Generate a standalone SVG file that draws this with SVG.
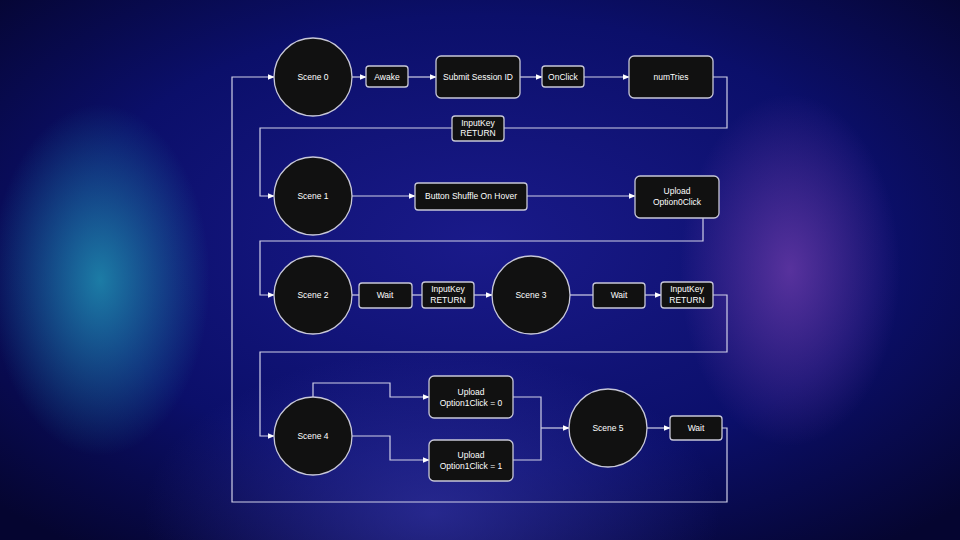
<svg xmlns="http://www.w3.org/2000/svg" width="960" height="540" viewBox="0 0 960 540">
<defs>
<radialGradient id="bg" cx="0.5" cy="0.45" r="0.7">
<stop offset="0" stop-color="#1a1a8a"/><stop offset="0.6" stop-color="#0b0f6a"/><stop offset="1" stop-color="#050530"/>
</radialGradient>
<radialGradient id="cy" gradientUnits="userSpaceOnUse" cx="100" cy="280" r="110" gradientTransform="translate(100 280) scale(1 1.6) translate(-100 -280)"><stop offset="0" stop-color="#1f8fb0" stop-opacity="0.85"/><stop offset="1" stop-color="#1f8fb0" stop-opacity="0"/></radialGradient>
<radialGradient id="pu" gradientUnits="userSpaceOnUse" cx="790" cy="270" r="110" gradientTransform="translate(790 270) scale(1 1.6) translate(-790 -270)"><stop offset="0" stop-color="#6a3aa8" stop-opacity="0.8"/><stop offset="1" stop-color="#6a3aa8" stop-opacity="0"/></radialGradient>
<radialGradient id="lb" cx="0.45" cy="0.95" r="0.3"><stop offset="0" stop-color="#3a3ab0" stop-opacity="0.6"/><stop offset="1" stop-color="#3a3ab0" stop-opacity="0"/></radialGradient>
<marker id="a" viewBox="0 0 10 10" refX="9" refY="5" markerWidth="6" markerHeight="6" orient="auto"><path d="M0,1 L10,5 L0,9 z" fill="#fff"/></marker>
</defs>
<style>
.n{fill:#111;stroke:#c8c8d8;stroke-width:1.3}
.t{fill:#fff;font-family:"Liberation Sans",Arial,sans-serif;font-size:8.5px;text-anchor:middle}
.c{fill:none;stroke:#d0d0e8;stroke-width:1.2}
.ar{marker-end:url(#a)}
</style>
<rect width="960" height="540" fill="url(#bg)"/>
<rect width="960" height="540" fill="url(#cy)"/>
<rect width="960" height="540" fill="url(#pu)"/>
<rect width="960" height="540" fill="url(#lb)"/>
<g id="connectors">
<path class="c ar" d="M352,77 H366"/>
<path class="c ar" d="M408,77 H436"/>
<path class="c ar" d="M520,77 H542"/>
<path class="c ar" d="M584,77 H629"/>
<path class="c ar" d="M713,77 H727 V128 H260 V196 H274"/>
<path class="c ar" d="M352,196 H415"/>
<path class="c ar" d="M527,196 H635"/>
<path class="c ar" d="M703,218 V241 H260 V295 H274"/>
<path class="c" d="M352,295 H359"/>
<path class="c" d="M412,295 H422"/>
<path class="c ar" d="M474,295 H492"/>
<path class="c" d="M570,295 H593"/>
<path class="c ar" d="M645,295 H661"/>
<path class="c ar" d="M713,295 H727 V352 H260 V436 H274"/>
<path class="c ar" d="M313,397 V383 H390 V397 H429"/>
<path class="c ar" d="M352,436 H390 V460 H429"/>
<path class="c" d="M513,397 H541 V460 H513"/>
<path class="c ar" d="M541,428 H569"/>
<path class="c ar" d="M647,428 H670"/>
<path class="c ar" d="M722,428 H727 V502 H232 V77 H274"/>
</g>
<g id="scene0"><circle class="n" cx="313" cy="77" r="39"/><text class="t" x="313" y="80">Scene 0</text></g>
<g id="awake"><rect class="n" x="366" y="66" width="42" height="21" rx="3"/><text class="t" x="387" y="80">Awake</text></g>
<g id="submit"><rect class="n" x="436" y="56" width="84" height="42" rx="5"/><text class="t" x="478" y="80">Submit Session ID</text></g>
<g id="onclick"><rect class="n" x="542" y="66" width="42" height="21" rx="3"/><text class="t" x="563" y="80">OnClick</text></g>
<g id="numtries"><rect class="n" x="629" y="56" width="84" height="42" rx="5"/><text class="t" x="671" y="80">numTries</text></g>
<g id="inputkey0"><rect class="n" x="452" y="116" width="52" height="25" rx="3"/><text class="t" x="478" y="126">InputKey</text><text class="t" x="478" y="136">RETURN</text></g>
<g id="scene1"><circle class="n" cx="313" cy="196" r="39"/><text class="t" x="313" y="199">Scene 1</text></g>
<g id="shuffle"><rect class="n" x="415" y="183" width="112" height="27" rx="3"/><text class="t" x="471" y="199">Button Shuffle On Hover</text></g>
<g id="upload0c"><rect class="n" x="635" y="176" width="84" height="42" rx="5"/><text class="t" x="677" y="194">Upload</text><text class="t" x="677" y="205">Option0Click</text></g>
<g id="scene2"><circle class="n" cx="313" cy="295" r="39"/><text class="t" x="313" y="298">Scene 2</text></g>
<g id="wait1"><rect class="n" x="359" y="283" width="53" height="25" rx="3"/><text class="t" x="385" y="298">Wait</text></g>
<g id="inputkey1"><rect class="n" x="422" y="282" width="52" height="26" rx="3"/><text class="t" x="448" y="292">InputKey</text><text class="t" x="448" y="303">RETURN</text></g>
<g id="scene3"><circle class="n" cx="531" cy="295" r="39"/><text class="t" x="531" y="298">Scene 3</text></g>
<g id="wait2"><rect class="n" x="593" y="283" width="52" height="25" rx="3"/><text class="t" x="619" y="298">Wait</text></g>
<g id="inputkey2"><rect class="n" x="661" y="282" width="52" height="26" rx="3"/><text class="t" x="687" y="292">InputKey</text><text class="t" x="687" y="303">RETURN</text></g>
<g id="scene4"><circle class="n" cx="313" cy="436" r="39"/><text class="t" x="313" y="439">Scene 4</text></g>
<g id="up10"><rect class="n" x="429" y="376" width="84" height="42" rx="5"/><text class="t" x="471" y="395">Upload</text><text class="t" x="471" y="406">Option1Click = 0</text></g>
<g id="up11"><rect class="n" x="429" y="440" width="84" height="41" rx="5"/><text class="t" x="471" y="458">Upload</text><text class="t" x="471" y="469">Option1Click = 1</text></g>
<g id="scene5"><circle class="n" cx="608" cy="428" r="39"/><text class="t" x="608" y="431">Scene 5</text></g>
<g id="wait3"><rect class="n" x="670" y="416" width="52" height="24" rx="3"/><text class="t" x="696" y="431">Wait</text></g>
</svg>
